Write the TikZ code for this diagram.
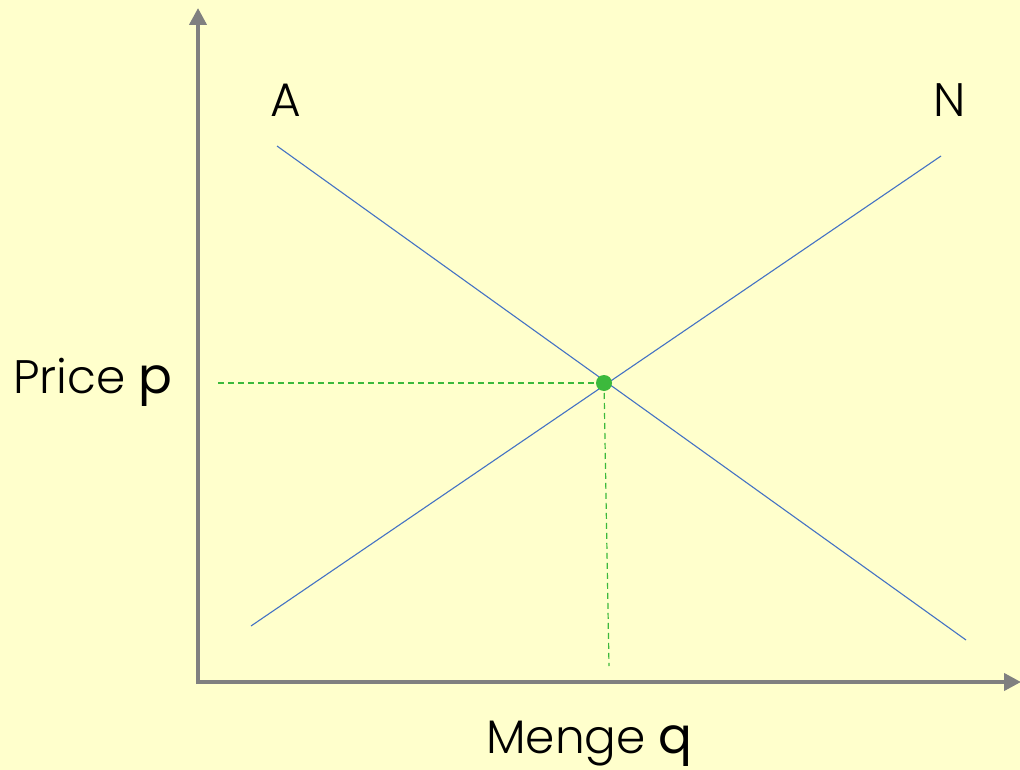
\documentclass[tikz,border=0pt]{standalone}
\usepackage{fontspec}
\setmainfont{Poppins}
\newfontfamily\plight{Poppins Light}
\newfontfamily\preg{Poppins}
\usetikzlibrary{arrows.meta}
\definecolor{bg}{HTML}{FFFFCC}
\definecolor{axisgray}{HTML}{808080}
\definecolor{curveblue}{HTML}{4472C4}
\definecolor{eqgreen}{HTML}{3CB93C}
\tikzset{
  axis/.style={draw=axisgray, line width=4pt, -{Triangle[length=17pt,width=17pt]}},
  curve/.style={draw=curveblue, line width=1.1pt},
  guide/.style={draw=eqgreen, line width=1.2pt, dash pattern=on 6pt off 4pt},
  lbl/.style={inner sep=0pt, font=\plight\fontsize{47}{55}\selectfont, text=black},
}
\begin{document}
\begin{tikzpicture}[x=1pt,y=-1pt]
\useasboundingbox[fill=bg] (0,0) rectangle (1020,770);
\coordinate (O) at (198,682);
\coordinate (ytop) at (198,8);
\coordinate (xend) at (1021,682);
\draw[axis] (198,684) -- (ytop);
\draw[axis] (196,682) -- (xend);
\coordinate (a1) at (277,146);
\coordinate (a2) at (966,640);
\coordinate (n1) at (251,626);
\coordinate (n2) at (941,156);
\draw[curve] (a1) -- (a2);
\draw[curve] (n1) -- (n2);
\coordinate (ph) at (218,383);
\coordinate (qv) at (609,666);
\node[circle, fill=eqgreen, inner sep=0pt, minimum size=16pt] (E) at (604,383) {};
\draw[guide] (ph) -- (E.center);
\draw[guide] (E.center) -- (qv);
\node[lbl, anchor=base] (A) at (286,117) {A};
\node[lbl, anchor=base] (N) at (950,117) {N};
\node[lbl, anchor=base west] (P) at (13,393) {Price {\preg\fontsize{50}{55}\selectfont p}};
\node[lbl, anchor=base west] (Q) at (486,753) {Menge {\preg\fontsize{50}{55}\selectfont q}};
\end{tikzpicture}
\end{document}
